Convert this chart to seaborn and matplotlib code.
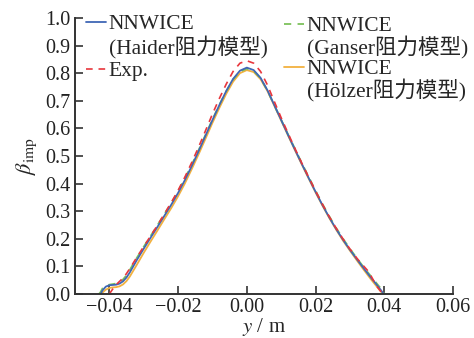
import matplotlib
matplotlib.use('Agg')
import matplotlib.pyplot as plt
import seaborn as sns

# radial position y (m) for the three NNWICE model curves
y_model = [-0.043, -0.0425, -0.042, -0.041, -0.040, -0.039, -0.038, -0.037, -0.036, -0.035,
           -0.034, -0.033, -0.032, -0.030, -0.028, -0.026, -0.024, -0.022, -0.020, -0.018,
           -0.016, -0.014, -0.012, -0.010, -0.008, -0.006, -0.004, -0.002, 0.000, 0.002,
           0.004, 0.006, 0.008, 0.010, 0.012, 0.014, 0.016, 0.018, 0.020, 0.022,
           0.024, 0.026, 0.028, 0.030, 0.032, 0.034, 0.036, 0.038, 0.039, 0.0398, 0.040]

beta_haider = [0.000, 0.000, 0.013, 0.027, 0.032, 0.033, 0.034, 0.038, 0.046, 0.060,
               0.079, 0.101, 0.123, 0.164, 0.204, 0.243, 0.283, 0.323, 0.366, 0.413,
               0.464, 0.518, 0.574, 0.630, 0.684, 0.735, 0.779, 0.809, 0.820, 0.811,
               0.783, 0.738, 0.684, 0.630, 0.576, 0.523, 0.471, 0.420, 0.370, 0.322,
               0.277, 0.235, 0.196, 0.160, 0.126, 0.093, 0.061, 0.030, 0.014, 0.000, 0.000]

beta_ganser = [0.000, 0.008, 0.020, 0.030, 0.034, 0.036, 0.038, 0.043, 0.053, 0.068,
               0.088, 0.110, 0.131, 0.171, 0.210, 0.249, 0.289, 0.329, 0.372, 0.419,
               0.469, 0.522, 0.577, 0.632, 0.685, 0.734, 0.777, 0.806, 0.816, 0.808,
               0.781, 0.737, 0.684, 0.631, 0.578, 0.526, 0.474, 0.424, 0.374, 0.326,
               0.281, 0.239, 0.200, 0.164, 0.130, 0.097, 0.066, 0.035, 0.020, 0.006, 0.000]

beta_holzer = [0.000, 0.000, 0.005, 0.016, 0.022, 0.024, 0.025, 0.028, 0.035, 0.047,
               0.064, 0.085, 0.106, 0.149, 0.190, 0.230, 0.271, 0.311, 0.354, 0.401,
               0.453, 0.507, 0.563, 0.620, 0.674, 0.725, 0.769, 0.800, 0.811, 0.804,
               0.778, 0.735, 0.682, 0.628, 0.574, 0.521, 0.469, 0.418, 0.368, 0.320,
               0.275, 0.233, 0.193, 0.157, 0.122, 0.088, 0.055, 0.024, 0.009, 0.000, 0.000]

# experiment
y_exp = [-0.040, -0.039, -0.038, -0.037, -0.036, -0.035, -0.034, -0.033, -0.032, -0.030,
         -0.028, -0.026, -0.024, -0.022, -0.020, -0.018, -0.016, -0.014, -0.012, -0.010,
         -0.008, -0.006, -0.004, -0.002, 0.000, 0.002, 0.004, 0.006, 0.008, 0.010,
         0.012, 0.014, 0.016, 0.018, 0.020, 0.022, 0.024, 0.026, 0.028, 0.030,
         0.032, 0.033, 0.034, 0.035, 0.036, 0.037, 0.038, 0.039, 0.0395]
beta_exp = [0.000, 0.018, 0.034, 0.046, 0.058, 0.074, 0.093, 0.113, 0.133, 0.172,
            0.210, 0.249, 0.290, 0.331, 0.375, 0.424, 0.477, 0.533, 0.592, 0.652,
            0.708, 0.760, 0.806, 0.836, 0.845, 0.836, 0.806, 0.757, 0.697, 0.638,
            0.582, 0.527, 0.474, 0.423, 0.373, 0.325, 0.280, 0.238, 0.199, 0.163,
            0.130, 0.115, 0.101, 0.087, 0.068, 0.046, 0.025, 0.009, 0.000]

x_ticks = [-0.04, -0.02, 0.00, 0.02, 0.04, 0.06]
y_ticks = [0.0, 0.1, 0.2, 0.3, 0.4, 0.5, 0.6, 0.7, 0.8, 0.9, 1.0]

sns.set_style('ticks')
plt.rcParams['font.family'] = ['Liberation Serif', 'Noto Sans CJK SC']
plt.rcParams['mathtext.fontset'] = 'stix'

fig = plt.figure(figsize=(4.74, 3.38), dpi=100)
ax = fig.add_axes([0.158, 0.130, 0.798, 0.817])

c_blue = '#3F67B5'
c_red = '#E8363C'
c_green = '#7DC25C'
c_orange = '#F2B13F'

sns.lineplot(x=y_model, y=beta_holzer, color=c_orange, lw=1.3, sort=False, ax=ax)
sns.lineplot(x=y_model, y=beta_ganser, color=c_green, lw=1.3, sort=False, ax=ax)
sns.lineplot(x=y_model, y=beta_haider, color=c_blue, lw=1.3, sort=False, ax=ax)
sns.lineplot(x=y_exp, y=beta_exp, color=c_red, lw=1.2, sort=False, ax=ax)
lines = ax.get_lines()
lines[3].set_dashes([4, 3.5])
lines[1].set_dashes([4, 3.5])

ax.set_xlim(-0.05, 0.06)
ax.set_ylim(0.0, 1.0)
ax.set_xticks(x_ticks)
ax.set_xticklabels(['\u22120.04', '\u22120.02', '0.00', '0.02', '0.04', '0.06'])
ax.set_yticks(y_ticks)
ax.set_yticklabels(['%.1f' % v for v in y_ticks])
ax.tick_params(direction='in', length=6, width=1.2, labelsize=14.5, colors='#333333',
               labelcolor='#222222', pad=3)
for s in ['top', 'right']:
    ax.spines[s].set_visible(False)
for s in ['left', 'bottom']:
    ax.spines[s].set_linewidth(1.4)
    ax.spines[s].set_color('#333333')

ax.set_xlabel(r'$y$ / m', fontsize=15, labelpad=-1)
ax.set_ylabel(r'$\beta_{\mathrm{imp}}$', fontsize=16, labelpad=5)

blank = plt.Line2D([], [], color='none')
leg_kw = dict(loc='upper left', bbox_transform=fig.transFigure, frameon=False,
              fontsize=15.5, handlelength=0.95, handletextpad=0.1,
              borderaxespad=0, borderpad=0)
leg1 = ax.legend([lines[2], blank, lines[3]], ['NNWICE', '(Haider阻力模型)', 'Exp.'],
                 bbox_to_anchor=(86 / 474, 1 - 14 / 338), labelspacing=0.1, **leg_kw)
ax.add_artist(leg1)
ax.legend([lines[1], blank, lines[0], blank],
          ['NNWICE', '(Ganser阻力模型)', 'NNWICE', '(Hölzer阻力模型)'],
          bbox_to_anchor=(284 / 474, 1 - 16 / 338), labelspacing=0.0, **leg_kw)

fig.savefig('out.png', dpi=100)
